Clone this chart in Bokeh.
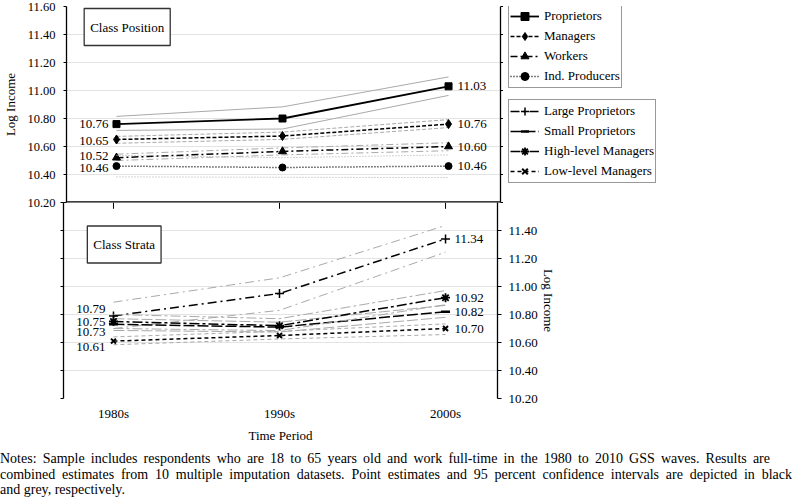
import math
from bokeh.plotting import figure
from bokeh.layouts import column, row
from bokeh.models import (Range1d, LinearAxis, FixedTicker, Legend, LegendItem,
                          Label, Span, Div)
from bokeh.embed import file_html
from bokeh.resources import INLINE
from bokeh.core.properties import value

# ---------------- data ----------------
periods = ["1980s", "1990s", "2000s"]

# Class Position (top panel)
proprietors = [10.76, 10.80, 11.03]
proprietors_lo = [10.715, 10.725, 10.965]
proprietors_hi = [10.815, 10.883, 11.097]
managers = [10.65, 10.675, 10.76]
managers_lo = [10.623, 10.651, 10.735]
managers_hi = [10.672, 10.703, 10.792]
workers = [10.52, 10.565, 10.60]
workers_lo = [10.50, 10.54, 10.57]
workers_hi = [10.545, 10.59, 10.627]
ind_producers = [10.46, 10.45, 10.46]
ind_producers_lo = [10.383, 10.38, 10.378]
ind_producers_hi = [10.537, 10.52, 10.54]

# Class Strata (bottom panel)
large_prop = [10.79, 10.95, 11.34]
large_prop_lo = [10.70, 10.83, 11.245]
large_prop_hi = [10.888, 11.062, 11.436]
small_prop = [10.73, 10.71, 10.82]
small_prop_lo = [10.686, 10.675, 10.78]
small_prop_hi = [10.77, 10.745, 10.865]
high_mgr = [10.75, 10.72, 10.92]
high_mgr_lo = [10.70, 10.685, 10.87]
high_mgr_hi = [10.80, 10.77, 10.971]
low_mgr = [10.61, 10.65, 10.70]
low_mgr_lo = [10.584, 10.625, 10.657]
low_mgr_hi = [10.64, 10.68, 10.733]

left_tick_labels = ["10.20", "10.40", "10.60", "10.80", "11.00", "11.20", "11.40", "11.60"]
right_tick_labels = ["10.20", "10.40", "10.60", "10.80", "11.00", "11.20", "11.40"]

notes = [
    "Notes: Sample includes respondents who are 18 to 65 years old and work full-time in the 1980 to 2010 GSS waves. Results are",
    "combined estimates from 10 multiple imputation datasets. Point estimates and 95 percent confidence intervals are depicted in black",
    "and grey, respectively.",
]

# ---------------- styling ----------------
FONT = "Liberation Serif"
GREY = "#a9a9a9"
FW, FH = 434, 196
OVER = 8
xs = list(range(len(periods)))
left_vals = [float(s) for s in left_tick_labels]
right_vals = [float(s) for s in right_tick_labels]

tstyle = dict(text_font=value(FONT), text_font_size="13px", text_color="#000000",
              text_baseline="middle")
bstyle = dict(x_units="screen", y_units="screen", text_font=FONT,
              text_font_size="13px", text_color="black", text_align="center",
              text_baseline="middle", border_line_color="#333333",
              border_line_width=1.3, background_fill_color="white", padding=(6, 11))


def style_axis(ax, ticks, labels, tick_out, standoff, size="13px"):
    ax.ticker = FixedTicker(ticks=ticks)
    ax.major_label_overrides = {t: (labels[i] if labels else "") for i, t in enumerate(ticks)}
    ax.major_tick_out = tick_out
    ax.major_tick_in = 0
    ax.major_tick_line_color = "black"
    ax.minor_tick_line_color = None
    ax.axis_line_color = "black"
    ax.axis_line_width = 1.3
    ax.major_label_standoff = standoff
    ax.major_label_text_font = FONT
    ax.major_label_text_font_size = size
    ax.major_label_text_color = "black"
    ax.axis_label_text_font = FONT
    ax.axis_label_text_font_size = "13px"
    ax.axis_label_text_font_style = "normal"
    ax.axis_label_text_color = "black"


def base_fig(**kw):
    f = figure(frame_width=FW, frame_height=FH, output_backend="svg",
               toolbar_location=None, min_border_left=63,
               x_range=Range1d(-0.301, 2.313), y_range=Range1d(10.2, 11.6), **kw)
    f.outline_line_color = None
    f.xgrid.visible = False
    f.ygrid.grid_line_color = "#e3e3e3"
    return f


def series(f, x, y, lo, hi, dash, marker, msize, mlw=1.0, lw=1.5):
    f.line(x, lo, line_color=GREY, line_width=1, line_dash=dash)
    f.line(x, hi, line_color=GREY, line_width=1, line_dash=dash)
    f.line(x, y, line_color="black", line_width=lw, line_dash=dash)
    f.scatter(x, y, marker=marker, size=msize, fill_color="black",
              line_color="black", line_width=mlw)


# ---------------- top panel ----------------
top = base_fig(min_border_top=6, min_border_bottom=OVER, min_border_right=0,
               x_axis_location=None)
style_axis(top.yaxis[0], left_vals, left_tick_labels, 3, 8, "12.5px")
top.yaxis[0].axis_label = "Log Income"
top.yaxis[0].axis_label_standoff = 6
top.ygrid.ticker = FixedTicker(ticks=left_vals)
rtop = LinearAxis()
style_axis(rtop, left_vals, None, 3, 0, "1px")
top.add_layout(rtop, "right")
top.add_layout(Span(location=10.2, dimension="width", line_color="black", line_width=2.6))

series(top, xs, proprietors, proprietors_lo, proprietors_hi, "solid", "square", 7, lw=1.8)
series(top, xs, managers, managers_lo, managers_hi, "4 2", "diamond", 9)
series(top, xs, workers, workers_lo, workers_hi, "7 3 2 3", "triangle", 8)
series(top, xs, ind_producers, ind_producers_lo, ind_producers_hi, "1 2", "circle", 7)

top_first = [s[0] for s in (proprietors, managers, workers, ind_producers)]
top_last = [s[-1] for s in (proprietors, managers, workers, ind_producers)]
top.text(x=[xs[0]] * 4, y=top_first, text=["%.2f" % v for v in top_first],
         x_offset=-8, y_offset=[0, 1, -2, 2], text_align="right", **tstyle)
top.text(x=[xs[-1]] * 4, y=top_last, text=["%.2f" % v for v in top_last],
         x_offset=9, text_align="left", **tstyle)
top.add_layout(Label(x=60.7, y=FH - 20.5, text="Class Position", **bstyle))

# ---------------- bottom panel ----------------
bot = base_fig(min_border_top=0, min_border_right=10, margin=(-OVER, 0, 0, 0))
bot.border_fill_alpha = 0
bot.background_fill_alpha = 0
style_axis(bot.yaxis[0], left_vals, None, 3, 0, "1px")
bot.ygrid.ticker = FixedTicker(ticks=left_vals)
rbot = LinearAxis()
style_axis(rbot, right_vals, right_tick_labels, 4, 7)
rbot.axis_label = "Log Income"
rbot.axis_label_standoff = 0
bot.add_layout(rbot, "right")

xax = bot.xaxis[0]
style_axis(xax, xs, periods, 0, 7)
xax.axis_line_color = None
xax.major_tick_line_color = None
xax.axis_label = "Time Period"
xax.axis_label_standoff = 4
# category tick marks hanging from the panel divider
bot.segment(x0=xs, x1=xs, y0=[11.6] * 3, y1=[11.6 - 0.045] * 3,
            line_color="black", line_width=1)

series(bot, xs, large_prop, large_prop_lo, large_prop_hi, "9 4 2 4", "cross", 9, mlw=1.5)
series(bot, xs, small_prop, small_prop_lo, small_prop_hi, "11 3", "dash", 9, mlw=2.5)
series(bot, xs, high_mgr, high_mgr_lo, high_mgr_hi, "10 3 3 3", "asterisk", 9, mlw=1.8)
series(bot, xs, low_mgr, low_mgr_lo, low_mgr_hi, "4 3", "x", 7, mlw=2)

bot_first = [s[0] for s in (large_prop, high_mgr, small_prop, low_mgr)]
bot_last = [s[-1] for s in (large_prop, high_mgr, small_prop, low_mgr)]
bot.text(x=[xs[0]] * 4, y=bot_first, text=["%.2f" % v for v in bot_first],
         x_offset=-8, y_offset=[-7, 0, 8, 6], text_align="right", **tstyle)
bot.text(x=[xs[-1]] * 4, y=bot_last, text=["%.2f" % v for v in bot_last],
         x_offset=9, text_align="left", **tstyle)
bot.add_layout(Label(x=60.7, y=FH - 42, text="Class Strata", **bstyle))

# ---------------- legend panel ----------------
LH = 6 + FH + OVER
leg = figure(width=165, height=LH, output_backend="svg", toolbar_location=None,
             min_border=0, x_axis_location=None, y_axis_location=None,
             x_range=Range1d(-10, -9), y_range=Range1d(-10, -9))
leg.outline_line_color = None
leg.grid.visible = False


def key(y, dash, marker, msize, mlw=1.0, lw=1.5):
    # legend keys; the series themselves fall outside this panel's ranges
    lr = leg.line(xs, y, line_color="black", line_width=lw, line_dash=dash)
    sr = leg.scatter(xs, y, marker=marker, size=msize, fill_color="black",
                     line_color="black", line_width=mlw)
    return [lr, sr]


lstyle = dict(border_line_color="#333333", border_line_width=1.3,
              background_fill_color="white", background_fill_alpha=1.0,
              label_text_font=FONT, label_text_font_size="13px",
              label_text_color="black", glyph_width=29, glyph_height=20,
              label_height=20, label_standoff=5, padding=1, spacing=0, margin=0)
leg1 = Legend(items=[LegendItem(label="Proprietors", renderers=key(proprietors, "solid", "square", 6, lw=1.8)),
                     LegendItem(label="Managers", renderers=key(managers, "4 2", "diamond", 8)),
                     LegendItem(label="Workers", renderers=key(workers, "7 3 2 3", "triangle", 7)),
                     LegendItem(label="Ind. Producers", renderers=key(ind_producers, "1 2", "circle", 6))],
              location=(5, LH - 14 - 82), **lstyle)
leg2 = Legend(items=[LegendItem(label="Large Proprietors", renderers=key(large_prop, "9 4 2 4", "cross", 8, mlw=1.5)),
                     LegendItem(label="Small Proprietors", renderers=key(small_prop, "11 3", "dash", 8, mlw=2.5)),
                     LegendItem(label="High-level Managers", renderers=key(high_mgr, "10 3 3 3", "asterisk", 8, mlw=1.8)),
                     LegendItem(label="Low-level Managers", renderers=key(low_mgr, "4 3", "x", 7, mlw=2))],
              location=(5, LH - 109 - 82), **lstyle)
leg.add_layout(leg1)
leg.add_layout(leg2)

# ---------------- notes ----------------
line_css = ("font-family:'Liberation Serif',serif;font-size:14px;line-height:15.5px;"
            "color:#000;white-space:nowrap;")
widths = [770, 792, None]
parts = []
for txt, w in zip(notes, widths):
    if w:
        parts.append('<div style="%swidth:%dpx;text-align:justify;text-align-last:justify;'
                     'white-space:normal;">%s</div>' % (line_css, w, txt))
    else:
        parts.append('<div style="%s">%s</div>' % (line_css, txt))
ndiv = Div(text="".join(parts), width=795, margin=(6, 0, 0, 0))

layout = column(row(top, leg), bot, ndiv, spacing=0)
open("out.html", "w").write(file_html(layout, INLINE))
